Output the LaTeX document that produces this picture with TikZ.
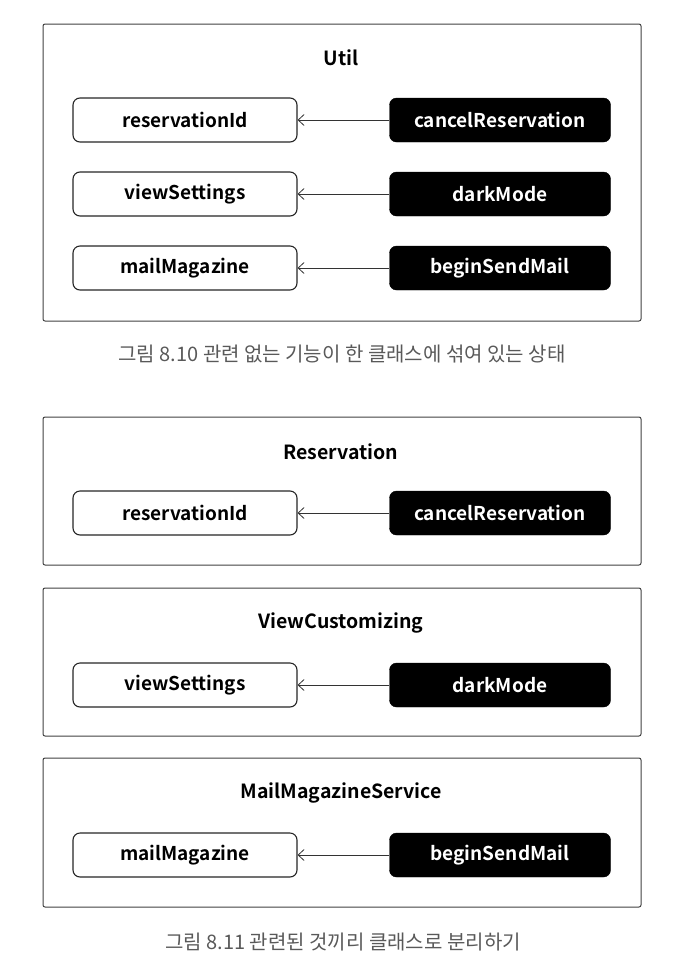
\documentclass[tikz,border=0pt]{standalone}
\usepackage{fontspec}
\setmainfont{Noto Sans CJK KR}[BoldFont={Noto Sans CJK KR Bold}]
\usetikzlibrary{arrows.meta}
\begin{document}
\begin{tikzpicture}[x=1pt,y=-1pt,
  classbox/.style={draw=black!75,line width=1pt,rounded corners=2pt},
  classname/.style={font=\fontsize{19.5}{23}\selectfont\bfseries},
  field/.style={draw=black!85,line width=1.1pt,fill=white,rounded corners=7pt,minimum width=224pt,minimum height=44pt,font=\fontsize{19}{23}\selectfont\bfseries},
  method/.style={draw=black,fill=black,text=white,rounded corners=7pt,minimum width=221pt,minimum height=44pt,font=\fontsize{19}{23}\selectfont\bfseries},
  uses/.style={->,>={Straight Barb[length=6pt,width=11pt]},line width=0.8pt,draw=black!80},
  caption/.style={text=black!65,font=\fontsize{20}{24}\selectfont}]
\useasboundingbox (0,0) rectangle (678,970);
% Util
\draw[classbox] (43,24) rectangle (641,321);
\node[classname] (util) at (341,58){Util};
\node[field] (f1) at (185,120){reservationId};\node[method] (m1) at (500,120){cancelReservation};
\node[field] (f2) at (185,194){viewSettings};\node[method] (m2) at (500,194){darkMode};
\node[field] (f3) at (185,268){mailMagazine};\node[method] (m3) at (500,268){beginSendMail};
\draw[uses] (m1)--(f1);\draw[uses] (m2)--(f2);\draw[uses] (m3)--(f3);
\node[caption] (cap1) at (342,354){그림 8.10 관련 없는 기능이 한 클래스에 섞여 있는 상태};
% Reservation
\draw[classbox] (43,417) rectangle (641,565);
\node[classname] (res) at (341,452){Reservation};
\node[field] (f4) at (185,513){reservationId};\node[method] (m4) at (500,513){cancelReservation};
\draw[uses] (m4)--(f4);
% ViewCustomizing
\draw[classbox] (43,588) rectangle (641,736);
\node[classname] (view) at (341,623){ViewCustomizing};
\node[field] (f5) at (185,685){viewSettings};\node[method] (m5) at (500,685){darkMode};
\draw[uses] (m5)--(f5);
% MailMagazineService
\draw[classbox] (43,758) rectangle (641,907);
\node[classname] (mail) at (341,793){MailMagazineService};
\node[field] (f6) at (185,855){mailMagazine};\node[method] (m6) at (500,855){beginSendMail};
\draw[uses] (m6)--(f6);
\node[caption] (cap2) at (343,942){그림 8.11 관련된 것끼리 클래스로 분리하기};
\end{tikzpicture}
\end{document}
